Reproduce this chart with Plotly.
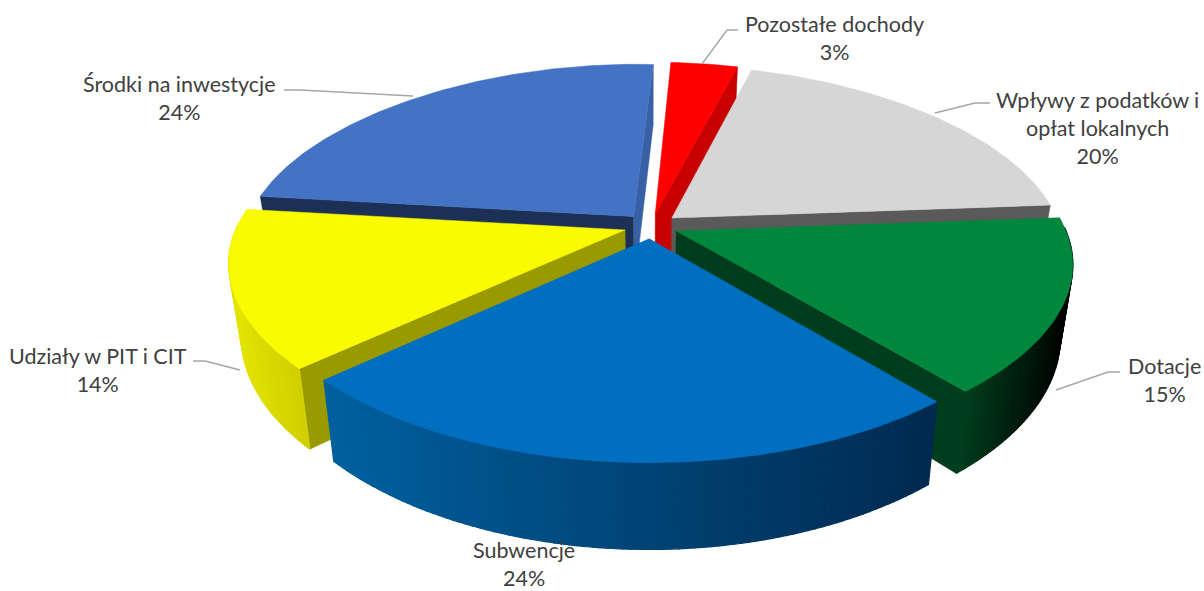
import math
import plotly.graph_objects as go

categories = ["Pozostałe dochody", "Wpływy z podatków i<br>opłat lokalnych", "Dotacje", "Subwencje", "Udziały w PIT i CIT", "Środki na inwestycje"]
values = [3.4, 19.6, 15, 24.4, 13.6, 24]

# style / camera constants
START = 3.0
CX, CY = 651, 226
AX, KX = 388, 0.18
B, K = 181, 0.17
DEPTH, SHRINK = 71, 0.03
EXPLODE = 0.07
TOP = ["#ff0000", "#d6d6d6", "#00863d", "#006fc0", "#fafa00", "#4472c4"]
WALL_START = ["#c80000", "#5a5a5a", "#003d1c", "#003c70", "#999900", "#1c2f55"]
WALL_END = ["#c80000", "#5a5a5a", "#003d1c", "#003c70", "#999900", "#3860a5"]
ARC_L = ["#c80000", "#5a5a5a", "#003d1c", "#00609f", "#e4e400", "#1c2f55"]
ARC_R = ["#c80000", "#5a5a5a", "#000000", "#002a50", "#d0d000", "#1c2f55"]
ORDER = [5, 0, 1, 2, 4, 3]


def proj(u, v, z=0.0):
    sx = 1 - KX * v
    sy = 1 / (1 + K * v)
    return CX + AX * u * sx * (1 - SHRINK * z), CY - B * v * sy + DEPTH * z * sy


def mix(c1, c2, t):
    a = [int(c1[i:i + 2], 16) for i in (1, 3, 5)]
    b = [int(c2[i:i + 2], 16) for i in (1, 3, 5)]
    return "#%02x%02x%02x" % tuple(round(p + (q - p) * t) for p, q in zip(a, b))


fig = go.Figure()


def poly(pts, color, width=1.0):
    fig.add_trace(go.Scatter(x=[p[0] for p in pts] + [pts[0][0]], y=[p[1] for p in pts] + [pts[0][1]],
                             mode="lines", fill="toself", fillcolor=color,
                             line=dict(color=color, width=width), hoverinfo="skip", showlegend=False))


total = sum(values)
angles = [START]
for val in values:
    angles.append(angles[-1] + val / total * 360)

for i in ORDER:
    a0, a1 = angles[i], angles[i + 1]
    mid = math.radians((a0 + a1) / 2)
    ou, ov = EXPLODE * math.sin(mid), EXPLODE * math.cos(mid)

    def pt(deg, z=0.0, r=1.0):
        t = math.radians(deg)
        return proj(ou + r * math.sin(t), ov + r * math.cos(t), z)

    apex, apex_b = proj(ou, ov), proj(ou, ov, 1)

    def cross(deg):
        p = pt(deg)
        return (p[0] - apex[0]) * (apex_b[1] - apex[1]) - (p[1] - apex[1]) * (apex_b[0] - apex[0])

    # radial walls that face the viewer
    if cross(a0) < 0:
        poly([apex, pt(a0), pt(a0, 1), apex_b], WALL_START[i], 0.5)
    if cross(a1) > 0:
        poly([apex, pt(a1), pt(a1, 1), apex_b], WALL_END[i], 0.5)
    # outer wall
    n = max(2, int(a1 - a0))
    degs = [a0 + (a1 - a0) * j / n for j in range(n + 1)]
    arc = [(d0, d1) for d0, d1 in zip(degs, degs[1:]) if math.cos(math.radians((d0 + d1) / 2)) < 0.02]
    if arc:
        xs = [pt(d0, 1)[0] for d0, _ in arc]
        lo, hi = min(xs), max(xs)
        for d0, d1 in arc:
            t = (pt(d0, 1)[0] - lo) / (hi - lo)
            poly([pt(d0), pt(d1), pt(d1, 1), pt(d0, 1)], mix(ARC_L[i], ARC_R[i], t), 1.2)
    # top face
    poly([apex] + [pt(d) for d in degs], TOP[i], 0.5)

# leader lines
leaders = [
    ([702, 727, 738], [64, 30, 30]),
    ([935, 975, 990], [113, 103, 103]),
    ([1056, 1108, 1120], [390, 372, 372]),
    ([240, 205, 193], [370, 361, 361]),
    ([413, 300, 284], [96, 90, 90]),
]
for lx, ly in leaders:
    fig.add_trace(go.Scatter(x=lx, y=ly, mode="lines", line=dict(color="#a6a6a6", width=1.4), hoverinfo="skip", showlegend=False))

label_pos = [(834, 38), (1097, 128), (1164, 380), (524, 564), (98, 370), (179, 98)]
for name, val, (x, y) in zip(categories, values, label_pos):
    fig.add_annotation(x=x, y=y, text=f"{name}<br>{round(val)}%", showarrow=False, xref="x", yref="y",
                       align="center", font=dict(family="Lato", size=21.5, color="#404040"))

fig.update_layout(width=1204, height=591, margin=dict(l=0, r=0, t=0, b=0), paper_bgcolor="white", plot_bgcolor="white",
                  xaxis=dict(range=[0, 1204], visible=False, fixedrange=True),
                  yaxis=dict(range=[591, 0], visible=False, fixedrange=True))
fig.write_html("out.html", config={"displayModeBar": False},
               post_script="document.body.style.margin='0';document.body.style.overflow='hidden';")
